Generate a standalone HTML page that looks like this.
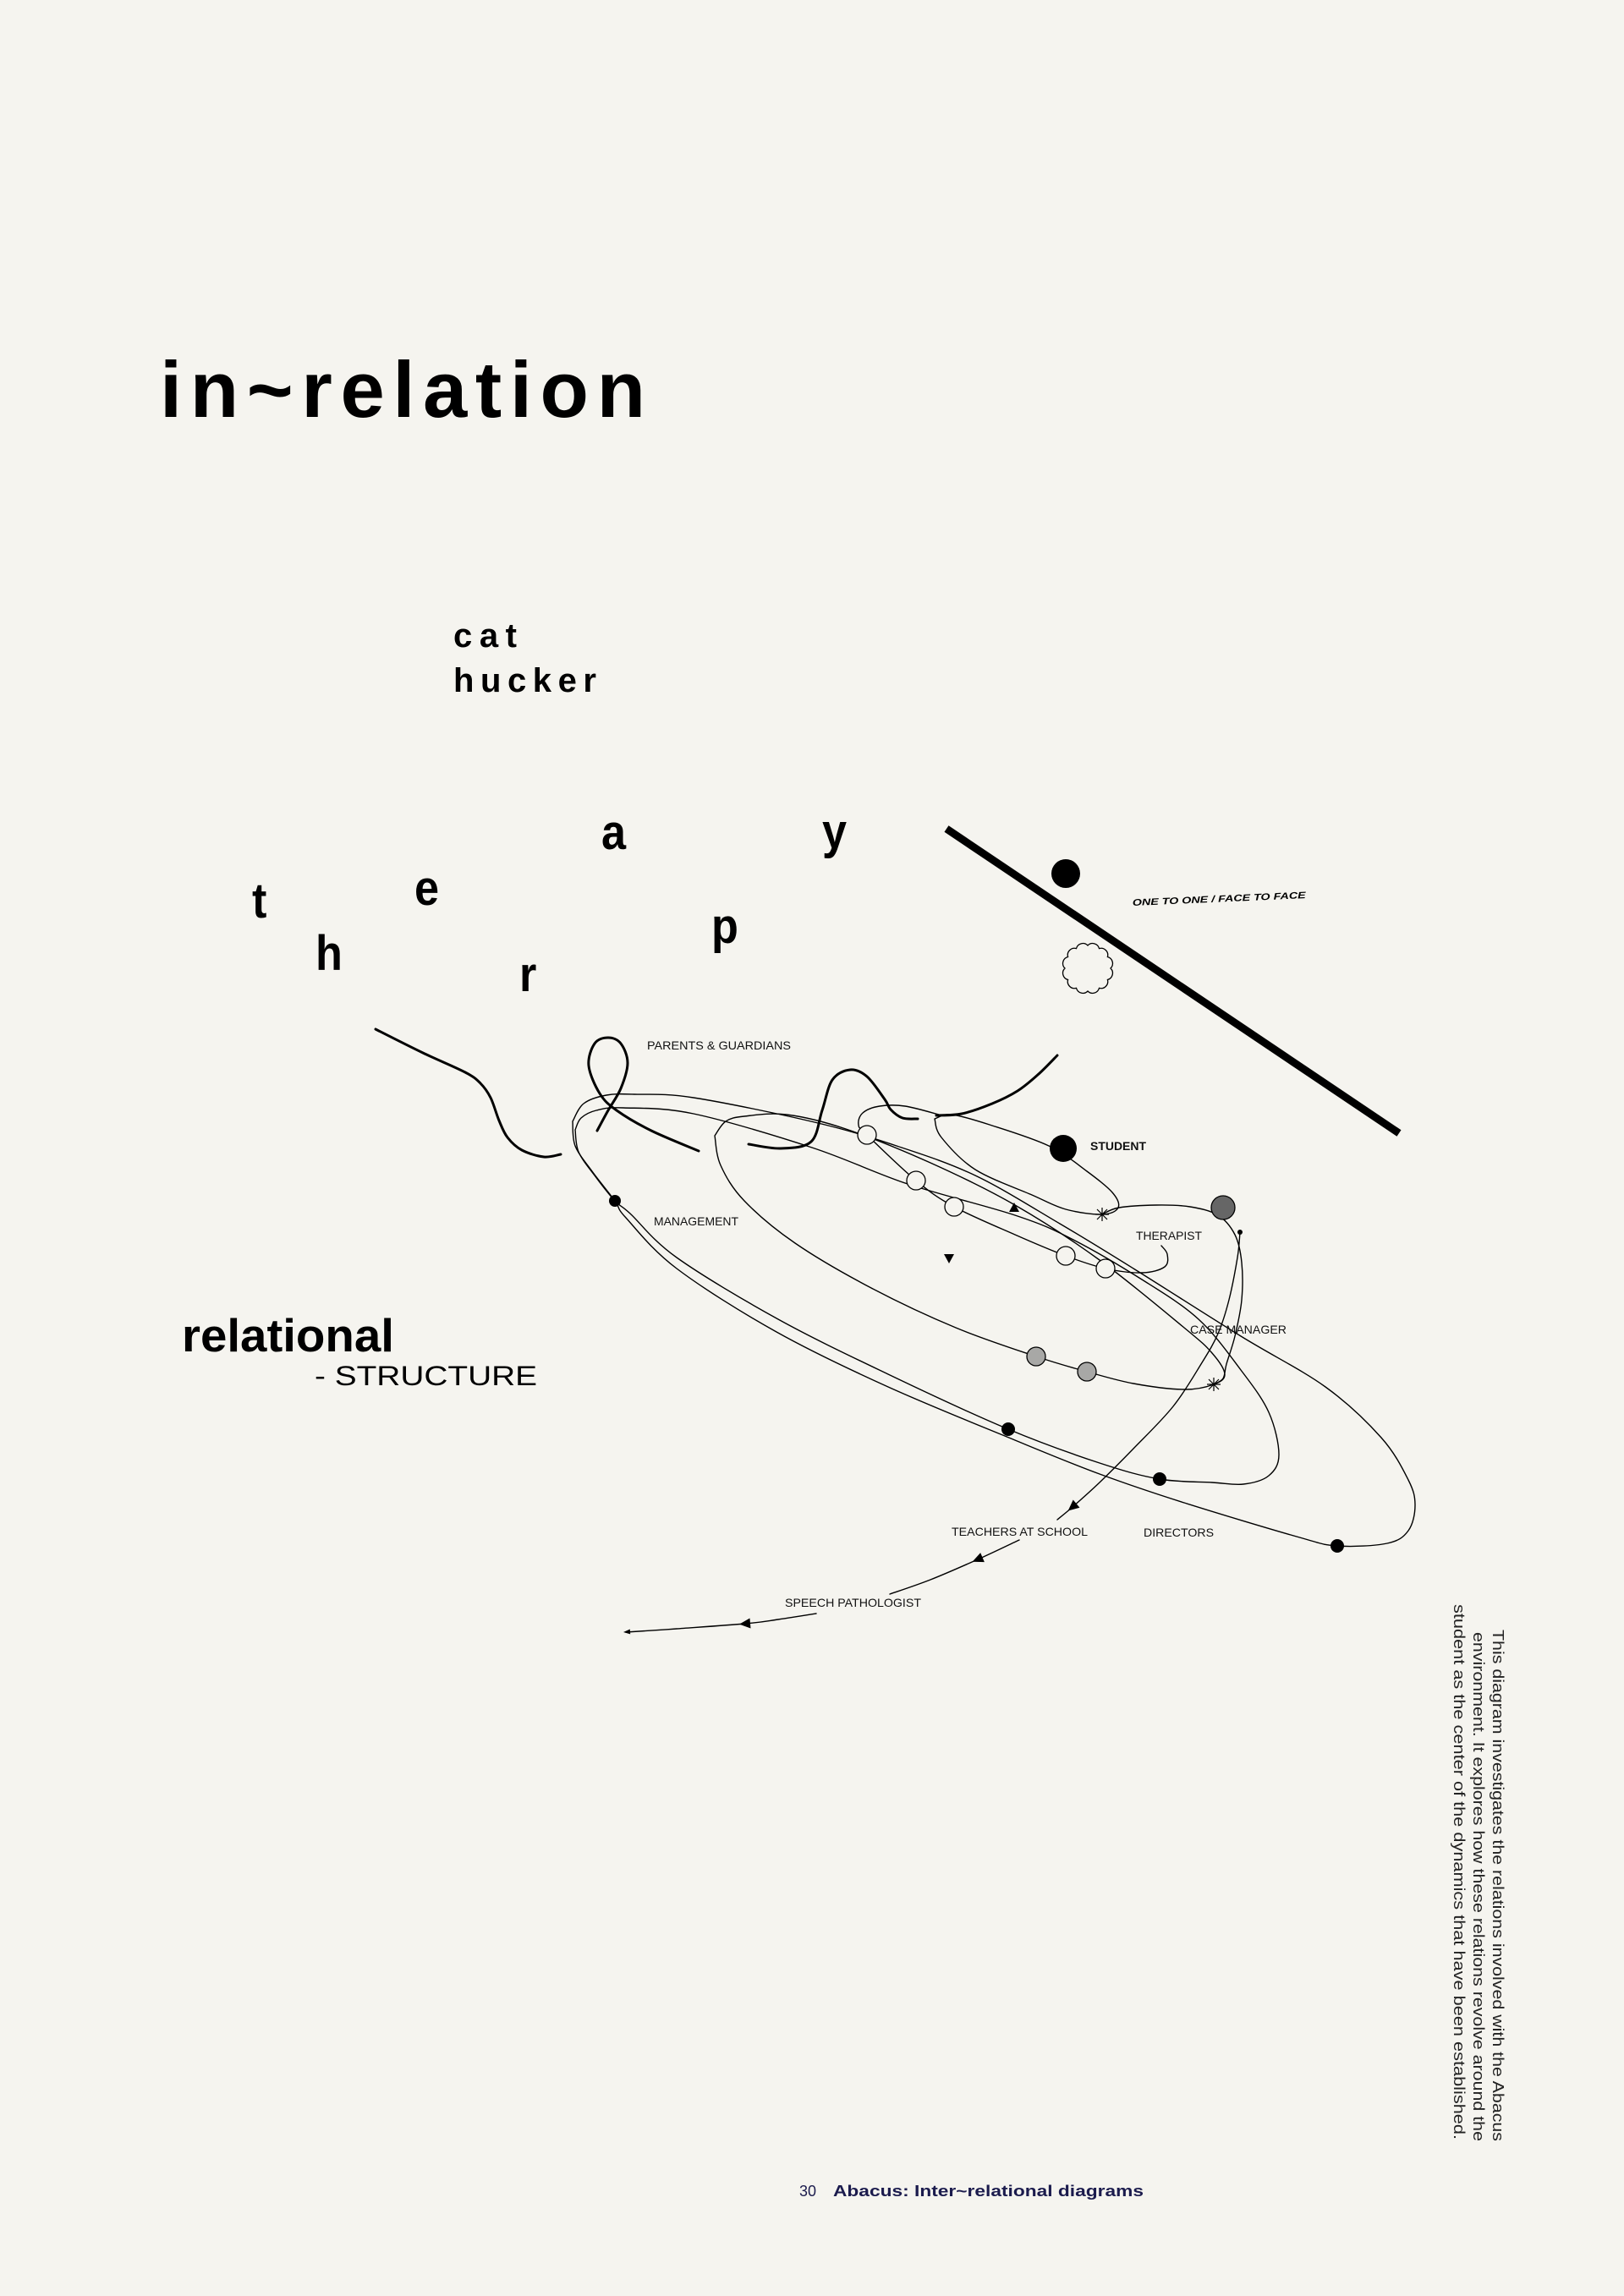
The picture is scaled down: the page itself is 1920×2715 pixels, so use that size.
<!DOCTYPE html>
<html><head><meta charset="utf-8"><style>
html,body{margin:0;padding:0;background:#f5f4ef;}
svg{display:block}
text{font-family:"Liberation Sans",Arial,sans-serif;}
</style></head><body>
<svg xmlns="http://www.w3.org/2000/svg" width="1920" height="2715" viewBox="0 0 1920 2715">
<rect width="1920" height="2715" fill="#f5f4ef"/>

<text x="189" y="493" font-size="94" font-weight="bold" textLength="574" lengthAdjust="spacing">in~relation</text>
<text x="536" y="765" font-size="40" font-weight="bold" textLength="75" lengthAdjust="spacing">cat</text>
<text x="536" y="818" font-size="40" font-weight="bold" textLength="169" lengthAdjust="spacing">hucker</text>

<g font-size="58" font-weight="bold">
<text x="298" y="1085" transform="translate(298,0) scale(0.9,1) translate(-298,0)">t</text>
<text x="373" y="1147" transform="translate(373,0) scale(0.9,1) translate(-373,0)">h</text>
<text x="490" y="1070" transform="translate(490,0) scale(0.9,1) translate(-490,0)">e</text>
<text x="614" y="1172" transform="translate(614,0) scale(0.9,1) translate(-614,0)">r</text>
<text x="711" y="1004" transform="translate(711,0) scale(0.9,1) translate(-711,0)">a</text>
<text x="841" y="1115" transform="translate(841,0) scale(0.9,1) translate(-841,0)">p</text>
<text x="972" y="1003" transform="translate(972,0) scale(0.9,1) translate(-972,0)">y</text>
</g>

<text x="215" y="1598" font-size="55" font-weight="bold" textLength="251" lengthAdjust="spacingAndGlyphs">relational</text>
<text x="372" y="1638" font-size="32" textLength="263" lengthAdjust="spacingAndGlyphs">- STRUCTURE</text>

<line x1="1119" y1="980" x2="1654" y2="1340" stroke="#000" stroke-width="9"/>
<circle cx="1260" cy="1033" r="17" fill="#000"/>
<path d="M1313,1145 A8 8 0 0 1 1309.4,1158.5 A8 8 0 0 1 1299.5,1168.4 A8 8 0 0 1 1286,1172 A8 8 0 0 1 1272.5,1168.4 A8 8 0 0 1 1262.6,1158.5 A8 8 0 0 1 1259,1145 A8 8 0 0 1 1262.6,1131.5 A8 8 0 0 1 1272.5,1121.6 A8 8 0 0 1 1286,1118 A8 8 0 0 1 1299.5,1121.6 A8 8 0 0 1 1309.4,1131.5 A8 8 0 0 1 1313,1145Z" fill="none" stroke="#000" stroke-width="1.3"/>
<text transform="translate(1339,1071) rotate(-2.5)" font-size="11" font-weight="bold" font-style="italic" textLength="205" lengthAdjust="spacingAndGlyphs">ONE TO ONE  /  FACE TO FACE</text>

<g fill="none" stroke="#000" stroke-linejoin="round" stroke-linecap="round">
<polyline class="s" stroke-width="3" points="444,1217 500,1245 550,1268 568,1281 580,1298 590,1325 600,1345 617,1360 643,1368 663,1365"/>
<polyline class="s" stroke-width="3" points="706,1337 719,1313 734,1287 742,1257 734,1234 719,1227 703,1234 696,1260 709,1293 729,1313 770,1337 826,1361"/>
<polyline class="s" stroke-width="3" points="885,1353 923,1358 959,1350 972,1313 984,1277 1005,1265 1025,1273 1046,1300 1053,1312 1067,1322 1085,1323"/>
<polyline class="s" stroke-width="3" points="1107,1319 1137,1317 1173,1305 1203,1290 1228,1270 1250,1248"/>

<polyline class="s" stroke-width="1.4" points="677,1326 690,1305 717,1295 750,1294 820,1298 963,1327 1060,1355 1153,1390 1253,1447 1340,1500 1467,1580 1567,1640 1633,1700 1665,1750 1673,1780 1665,1810 1640,1825 1581,1828 1533,1817 1400,1777 1300,1743 1200,1703 1050,1640 918,1575 800,1500 740,1440 727,1420 700,1385 680,1355 677,1326"/>
<polyline class="s" stroke-width="1.4" points="680,1336 687,1322 705,1313 737,1310 820,1317 960,1357 1073,1400 1200,1437 1267,1465 1350,1513 1417,1560 1467,1620 1500,1670 1512,1720 1500,1745 1470,1755 1433,1753 1371,1749 1300,1730 1192,1690 1050,1625 920,1560 800,1487 745,1435 727,1420 703,1390 684,1362 680,1336"/>
<polyline class="s" stroke-width="1.4" points="845,1343 858,1326 880,1320 930,1318 1000,1335 1100,1375 1200,1425 1300,1490 1400,1570 1433,1600 1448,1625 1435,1637 1400,1643 1340,1636 1285,1622 1225,1604 1130,1570 1030,1523 940,1470 880,1420 852,1378 845,1343"/>
<polyline class="s" stroke-width="1.4" points="1110,1318 1070,1308 1040,1308 1020,1316 1015,1330 1025,1342 1083,1396 1128,1427 1200,1460 1260,1485 1307,1500 1350,1505 1377,1498 1380,1483 1373,1473"/>
<polyline class="s" stroke-width="1.4" points="1105,1323 1125,1318 1170,1330 1240,1355 1285,1385 1315,1410 1322,1428 1303,1436 1260,1430 1220,1413 1153,1383 1113,1345 1105,1323"/>
<polyline class="s" stroke-width="1.4" points="1303,1436 1323,1428 1367,1425 1407,1427 1440,1437 1460,1460 1468,1493 1468,1537 1460,1580 1450,1613 1446,1630 1435,1637"/>
<polyline class="s" stroke-width="1.4" points="1466,1457 1463,1487 1453,1537 1440,1577 1420,1613 1387,1663 1340,1713 1300,1753 1268,1782 1250,1797"/>
<polyline class="s" stroke-width="1.4" points="1205,1821 1156,1844 1100,1868 1052,1885"/>
<polyline class="s" stroke-width="1.4" points="965,1908 920,1915 881,1920 800,1926 740,1930"/>
</g>

<g fill="#000">
<path d="M7,0 L-6,-6 L-6,6Z" transform="translate(1268,1782) rotate(140)"/>
<path d="M7,0 L-6,-6 L-6,6Z" transform="translate(1156,1844) rotate(157)"/>
<path d="M7,0 L-6,-6 L-6,6Z" transform="translate(881,1920) rotate(175)"/>
<path d="M0,0 L8,-3 L8,3Z" transform="translate(737,1930) rotate(-4)"/>
<path d="M1199,1422 L1205,1433 L1193,1433Z"/>
<path d="M1122,1494 L1116,1483 L1128,1483Z"/>
</g>

<g stroke="#000" stroke-width="1.3">
<circle cx="1025" cy="1342" r="11" fill="#f5f4ef"/>
<circle cx="1083" cy="1396" r="11" fill="#f5f4ef"/>
<circle cx="1128" cy="1427" r="11" fill="#f5f4ef"/>
<circle cx="1260" cy="1485" r="11" fill="#f5f4ef"/>
<circle cx="1307" cy="1500" r="11" fill="#f5f4ef"/>
<circle cx="1225" cy="1604" r="11" fill="#a8a8a6"/>
<circle cx="1285" cy="1622" r="11" fill="#a8a8a6"/>
<circle cx="1446" cy="1428" r="14" fill="#666"/>
</g>
<g fill="#000">
<circle cx="1257" cy="1358" r="16"/>
<circle cx="1466" cy="1457" r="3"/>
<circle cx="727" cy="1420" r="7"/>
<circle cx="1192" cy="1690" r="8"/>
<circle cx="1371" cy="1749" r="8"/>
<circle cx="1581" cy="1828" r="8"/>
</g>
<g stroke="#000" stroke-width="1.2">
<path d="M1303,1428 V1444 M1295,1436 H1311 M1297,1430 L1309,1442 M1309,1430 L1297,1442"/>
<path d="M1435,1629 V1645 M1427,1637 H1443 M1429,1631 L1441,1643 M1441,1631 L1429,1643"/>
</g>

<g font-size="14" fill="#111">
<text x="765" y="1241" textLength="170" lengthAdjust="spacingAndGlyphs">PARENTS &amp; GUARDIANS</text>
<text x="773" y="1449" textLength="100" lengthAdjust="spacingAndGlyphs">MANAGEMENT</text>
<text x="1289" y="1360" font-weight="bold" textLength="66" lengthAdjust="spacingAndGlyphs">STUDENT</text>
<text x="1343" y="1466" textLength="78" lengthAdjust="spacingAndGlyphs">THERAPIST</text>
<text x="1407" y="1577" textLength="114" lengthAdjust="spacingAndGlyphs">CASE MANAGER</text>
<text x="1125" y="1816" textLength="161" lengthAdjust="spacingAndGlyphs">TEACHERS AT SCHOOL</text>
<text x="1352" y="1817" textLength="83" lengthAdjust="spacingAndGlyphs">DIRECTORS</text>
<text x="928" y="1900" textLength="161" lengthAdjust="spacingAndGlyphs">SPEECH PATHOLOGIST</text>
</g>

<g font-size="18" fill="#222" text-anchor="end">
<text transform="translate(1765,2532) rotate(90)" textLength="605" lengthAdjust="spacingAndGlyphs">This diagram investigates the relations involved with the Abacus</text>
<text transform="translate(1742,2532) rotate(90)" textLength="602" lengthAdjust="spacingAndGlyphs">environment. It explores how these relations revolve around the</text>
<text transform="translate(1719,2530) rotate(90)" textLength="633" lengthAdjust="spacingAndGlyphs">student as the center of the dynamics that have been established.</text>
</g>

<text x="945" y="2597" font-size="18" fill="#1b1b4d">30</text>
<text x="985" y="2597" font-size="18" font-weight="bold" fill="#1b1b4d" textLength="367" lengthAdjust="spacingAndGlyphs">Abacus: Inter~relational diagrams</text>
</svg>
<script>
(function(){
  var els=document.querySelectorAll('polyline.s');
  els.forEach(function(pl){
    var nums=pl.getAttribute('points').trim().split(/[\s,]+/).map(Number);
    var p=[];for(var i=0;i<nums.length;i+=2)p.push([nums[i],nums[i+1]]);
    if(p.length<3)return;
    var d='M'+p[0][0]+','+p[0][1];
    for(var i=0;i<p.length-1;i++){
      var p0=p[i-1]||p[i],p1=p[i],p2=p[i+1],p3=p[i+2]||p2;
      var c1x=p1[0]+(p2[0]-p0[0])/6,c1y=p1[1]+(p2[1]-p0[1])/6;
      var c2x=p2[0]-(p3[0]-p1[0])/6,c2y=p2[1]-(p3[1]-p1[1])/6;
      d+=' C'+c1x.toFixed(1)+','+c1y.toFixed(1)+' '+c2x.toFixed(1)+','+c2y.toFixed(1)+' '+p2[0]+','+p2[1];
    }
    var path=document.createElementNS('http://www.w3.org/2000/svg','path');
    path.setAttribute('d',d);
    path.setAttribute('stroke-width',pl.getAttribute('stroke-width'));
    pl.parentNode.replaceChild(path,pl);
  });
})();
</script>
</body></html>
